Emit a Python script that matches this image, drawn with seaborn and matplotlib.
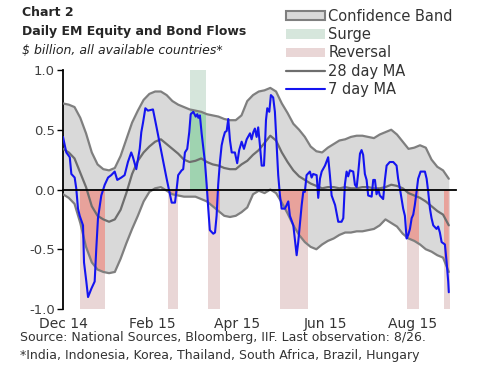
import pandas as pd
import matplotlib
matplotlib.use("Agg")
import matplotlib.pyplot as plt
import seaborn as sns
from matplotlib.patches import Patch
from matplotlib.lines import Line2D

# days counted from 1 Dec 2014, values in $ billion
start = pd.Timestamp("2014-12-01")

band_day = list(range(0, 269, 4))
band_upper = [0.72, 0.71, 0.69, 0.60, 0.47, 0.31, 0.21, 0.17, 0.16, 0.18,
              0.28, 0.42, 0.56, 0.66, 0.75, 0.80, 0.82, 0.82, 0.79, 0.74,
              0.71, 0.69, 0.67, 0.66, 0.65, 0.63, 0.62, 0.61, 0.59, 0.58,
              0.58, 0.62, 0.74, 0.79, 0.82, 0.83, 0.85, 0.82, 0.72, 0.64,
              0.55, 0.50, 0.44, 0.36, 0.32, 0.31, 0.35, 0.38, 0.41, 0.42,
              0.44, 0.45, 0.45, 0.44, 0.43, 0.46, 0.48, 0.50, 0.46, 0.40,
              0.34, 0.35, 0.37, 0.35, 0.25, 0.19, 0.16, 0.09]
band_lower = [-0.04, -0.07, -0.12, -0.28, -0.48, -0.61, -0.67, -0.69, -0.70, -0.69,
              -0.58, -0.45, -0.33, -0.22, -0.10, -0.02, 0.01, 0.02, -0.01, -0.04,
              -0.05, -0.06, -0.06, -0.06, -0.08, -0.10, -0.14, -0.18, -0.22, -0.23,
              -0.22, -0.19, -0.15, -0.04, -0.01, -0.03, 0.00, -0.03, -0.11, -0.20,
              -0.30, -0.38, -0.44, -0.48, -0.50, -0.46, -0.43, -0.41, -0.38, -0.36,
              -0.36, -0.35, -0.35, -0.34, -0.33, -0.30, -0.25, -0.28, -0.31, -0.37,
              -0.41, -0.43, -0.46, -0.50, -0.52, -0.55, -0.57, -0.69]
ma28 = [0.34, 0.31, 0.26, 0.14, 0.02, -0.14, -0.22, -0.25, -0.27, -0.25,
        -0.17, -0.03, 0.13, 0.24, 0.31, 0.36, 0.40, 0.42, 0.38, 0.34,
        0.30, 0.25, 0.23, 0.24, 0.26, 0.23, 0.21, 0.20, 0.18, 0.17,
        0.17, 0.21, 0.24, 0.29, 0.33, 0.39, 0.45, 0.41, 0.31, 0.23,
        0.16, 0.11, 0.08, 0.05, 0.03, 0.01, 0.02, 0.02, 0.01, 0.02,
        0.01, 0.01, 0.02, 0.02, 0.01, 0.01, 0.02, 0.04, 0.03, 0.01,
        -0.03, -0.05, -0.07, -0.10, -0.14, -0.18, -0.21, -0.30]

ma7_day = [0, 2.3, 4.7, 5.8, 8.1, 9.2, 10.4, 11.6, 13.9, 14.6,
           16.2, 17.4, 19.7, 22, 23.1, 24.3, 26.6, 29, 31.3, 33.5,
           35.9, 37.7, 40.5, 42.8, 45.1, 47.4, 48.6, 50.9, 53.3, 54.4,
           55.6, 57.2, 59, 62.5, 65, 67.4, 69.7, 72, 74.3, 75.5,
           77.8, 79, 80, 82.4, 83.5, 84.7, 86.3, 87.7, 88.7, 90.5,
           92.2, 93.3, 94, 95.1, 96.3, 98.6, 99.8, 100.9, 102, 104.4,
           105.6, 106.7, 107.8, 109, 110.2, 111.3, 112.5, 113.7, 114.8, 116,
           117.2, 119.4, 121, 122.4, 124.1, 125.7, 127.6, 129.9, 131, 132.2,
           133.3, 134.5, 135.6, 136.8, 138, 139.6, 140.3, 141, 141.9, 143.3,
           144.4, 146, 147.2, 148.4, 149.5, 150.7, 151.9, 154.2, 156.5, 157.6,
           160, 162.3, 163.4, 165.8, 166.9, 168, 169.2, 171.5, 172.7, 173.8,
           176.2, 177.3, 178.5, 179.7, 182, 184.2, 185.4, 186.6, 189, 191.2,
           193.5, 194.7, 195.8, 197, 198.1, 199.3, 201.6, 202.8, 204, 205,
           206.3, 207.4, 208.5, 209.7, 210.9, 212, 214.4, 215.5, 216.7, 217.8,
           219, 220.1, 222.4, 223.6, 224.8, 227, 229.4, 231.7, 232.8, 234,
           236.3, 237.5, 238.7, 239.8, 241, 242.2, 243.3, 244.4, 245.6, 246.7,
           248.4, 251.4, 252.6, 253.7, 254.9, 256, 257.2, 259.5, 260.6, 261.8,
           263, 265.3, 266.5, 267.6, 268]
ma7 = [0.44, 0.31, 0.27, 0.13, 0.10, 0.01, -0.16, -0.22, -0.30, -0.61,
       -0.77, -0.90, -0.83, -0.77, -0.50, -0.24, -0.05, 0.04, 0.10, 0.12,
       0.15, 0.08, 0.10, 0.12, 0.23, 0.31, 0.27, 0.17, 0.34, 0.48,
       0.56, 0.68, 0.66, 0.67, 0.52, 0.37, 0.23, 0.09, -0.04, -0.11,
       -0.11, 0.01, 0.12, 0.16, 0.17, 0.31, 0.34, 0.48, 0.63, 0.65,
       0.61, 0.63, 0.60, 0.62, 0.47, 0.23, 0.04, -0.16, -0.34, -0.37,
       -0.36, -0.22, 0.04, 0.23, 0.37, 0.43, 0.48, 0.49, 0.59, 0.41,
       0.31, 0.31, 0.22, 0.33, 0.40, 0.34, 0.42, 0.47, 0.42, 0.48,
       0.51, 0.44, 0.52, 0.37, 0.20, 0.20, 0.37, 0.58, 0.68, 0.65,
       0.79, 0.77, 0.65, 0.37, 0.12, -0.05, -0.16, -0.16, -0.10, -0.22,
       -0.30, -0.55, -0.44, -0.13, -0.02, -0.02, 0.12, 0.15, 0.10, 0.13,
       0.12, -0.07, 0.09, 0.15, 0.20, 0.27, 0.12, -0.05, -0.13, -0.27,
       -0.27, -0.24, 0.04, 0.15, 0.11, 0.16, 0.15, 0.04, 0.02, 0.13,
       0.30, 0.33, 0.29, 0.13, 0.08, -0.05, -0.06, 0.08, 0.08, -0.04,
       0.00, -0.05, -0.08, 0.08, 0.20, 0.23, 0.23, 0.20, 0.09, 0.01,
       -0.16, -0.22, -0.41, -0.38, -0.33, -0.24, -0.21, -0.13, -0.02, 0.09,
       0.15, 0.15, 0.09, -0.02, -0.16, -0.24, -0.30, -0.33, -0.31, -0.36,
       -0.44, -0.46, -0.61, -0.77, -0.86]

surge_periods = [("2015-02-27", "2015-03-09")]
reversal_periods = [("2014-12-13", "2014-12-29"), ("2015-02-12", "2015-02-18"),
                    ("2015-03-12", "2015-03-19"), ("2015-05-01", "2015-05-19"),
                    ("2015-07-28", "2015-08-04"), ("2015-08-23", "2015-08-26")]

tick_dates = ["2014-12-01", "2015-02-01", "2015-04-01", "2015-06-01", "2015-08-01"]
tick_labels = ["Dec 14", "Feb 15", "Apr 15", "Jun 15", "Aug 15"]

assert len(ma7_day) == len(ma7)
assert len(band_day) == len(band_upper) == len(band_lower) == len(ma28)

band_dates = start + pd.to_timedelta(band_day, unit="D")
ma7_dates = start + pd.to_timedelta(ma7_day, unit="D")

band_fill = "#d9d9d9"
band_edge = "#7f7f7f"
ma28_col = "#6e6e6e"
blue = "#1414f0"
rev_light, rev_dark = "#e9d6d6", "#e8a29b"
surge_light, surge_dark = "#d6e6dc", "#9fd3b0"

sns.set_style("white")
plt.rcParams["font.family"] = ["DejaVu Sans"]

fig = plt.figure(figsize=(4.88, 3.66), dpi=100)
ax = fig.add_axes([63 / 488, 1 - 309 / 366, (456 - 63) / 488, (309 - 70) / 366])

# light shading bars behind everything
for s, e in reversal_periods:
    ax.axvspan(pd.Timestamp(s), pd.Timestamp(e) + pd.Timedelta(days=1), ymin=0, ymax=0.5,
               color=rev_light, lw=0, zorder=0)
for s, e in surge_periods:
    ax.axvspan(pd.Timestamp(s), pd.Timestamp(e) + pd.Timedelta(days=1), ymin=0.5, ymax=1,
               color=surge_light, lw=0, zorder=0)

band = ax.fill_between(band_dates, band_lower, band_upper, color=band_fill, lw=0, zorder=1)
clip = band.get_paths()[0]

# darker shading where bars sit inside the band
for s, e in reversal_periods:
    r = ax.axvspan(pd.Timestamp(s), pd.Timestamp(e) + pd.Timedelta(days=1), ymin=0, ymax=0.5,
                   color=rev_dark, lw=0, zorder=2)
    r.set_clip_path(clip, band.get_transform())
for s, e in surge_periods:
    r = ax.axvspan(pd.Timestamp(s), pd.Timestamp(e) + pd.Timedelta(days=1), ymin=0.5, ymax=1,
                   color=surge_dark, lw=0, zorder=2)
    r.set_clip_path(clip, band.get_transform())

sns.lineplot(x=band_dates, y=band_upper, ax=ax, color=band_edge, lw=1.6, estimator=None, sort=False, zorder=3)
sns.lineplot(x=band_dates, y=band_lower, ax=ax, color=band_edge, lw=1.6, estimator=None, sort=False, zorder=3)
sns.lineplot(x=band_dates, y=ma28, ax=ax, color=ma28_col, lw=1.6, estimator=None, sort=False, zorder=4)
sns.lineplot(x=ma7_dates, y=ma7, ax=ax, color=blue, lw=1.5, estimator=None, sort=False, zorder=5)

ax.set_ylim(-1, 1)
ax.set_xlim(pd.Timestamp("2014-12-01"), pd.Timestamp("2015-08-31"))
ax.set_yticks([-1, -0.5, 0, 0.5, 1])
ax.set_yticklabels(["-1.0", "-0.5", "0.0", "0.5", "1.0"])

for side in ["top", "right"]:
    ax.spines[side].set_visible(False)
ax.spines["left"].set_color("black")
ax.spines["left"].set_linewidth(1.3)
ax.spines["bottom"].set_position(("data", 0))
ax.spines["bottom"].set_color("black")
ax.spines["bottom"].set_linewidth(1.3)
ax.spines["bottom"].set_zorder(6)

ax.set_xticks(pd.to_datetime(tick_dates))
ax.tick_params(axis="x", length=3, width=1, direction="out", labelbottom=False, color="black")
ax.tick_params(axis="y", left=True, length=4, width=1, direction="out", color="black",
               labelsize=9.5, labelcolor="#404040", pad=2)

sec = ax.secondary_xaxis("bottom")
sec.set_xticks(pd.to_datetime(tick_dates))
sec.set_xticklabels(tick_labels)
sec.spines["bottom"].set_visible(False)
sec.tick_params(length=0, labelsize=10, labelcolor="#333333", pad=6)
ax.set_xlabel("")
ax.set_ylabel("")

handles = [
    Patch(facecolor=band_fill, edgecolor=band_edge, lw=1.5),
    Patch(facecolor=surge_light, edgecolor="none"),
    Patch(facecolor=rev_light, edgecolor="none"),
    Line2D([], [], color=ma28_col, lw=1.6),
    Line2D([], [], color=blue, lw=1.5),
]
labels = ["Confidence Band", "Surge", "Reversal", "28 day MA", "7 day MA"]
fig.legend(handles, labels, loc="upper left", bbox_to_anchor=(286 / 488, 1 - 9 / 366),
           frameon=False, fontsize=10.5, handlelength=2.7, handleheight=0.6,
           handletextpad=0.2, labelspacing=0.22, borderpad=0, borderaxespad=0,
           labelcolor="#333333")

fig.text(22 / 488, 1 - 12 / 366, "Chart 2", fontsize=9, fontweight="bold", va="center", ha="left")
fig.text(22 / 488, 1 - 31 / 366, "Daily EM Equity and Bond Flows", fontsize=9, fontweight="bold",
         va="center", ha="left")
fig.text(22 / 488, 1 - 50 / 366, "$ billion, all available countries*", fontsize=9, style="italic",
         va="center", ha="left", color="#222222")
fig.text(20 / 488, 1 - 338 / 366, "Source: National Sources, Bloomberg, IIF. Last observation: 8/26.",
         fontsize=9, va="center", ha="left", color="#333333")
fig.text(20 / 488, 1 - 355 / 366, "*India, Indonesia, Korea, Thailand, South Africa, Brazil, Hungary",
         fontsize=9, va="center", ha="left", color="#333333")

fig.savefig("out.png", dpi=100)
